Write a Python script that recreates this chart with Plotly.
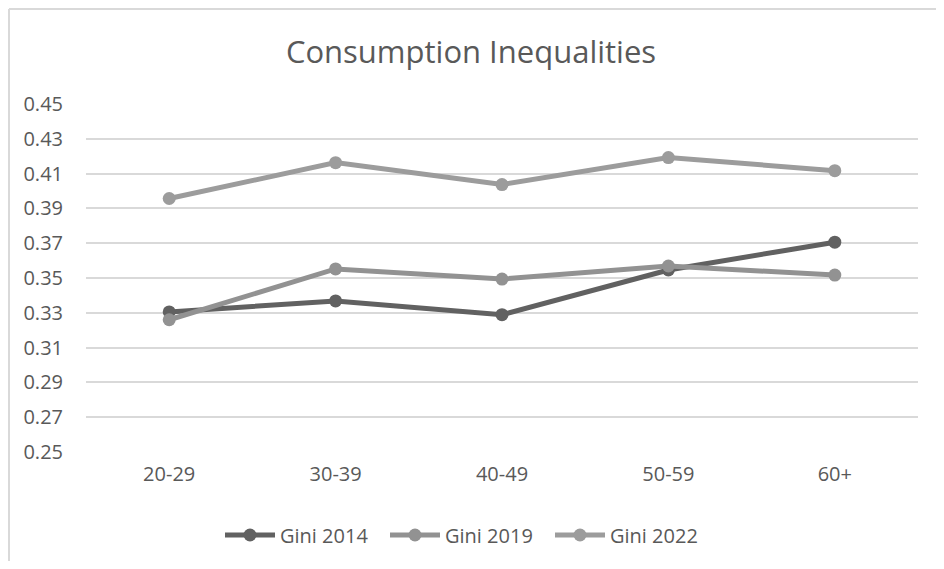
import plotly.graph_objects as go

age_groups = ["20-29", "30-39", "40-49", "50-59", "60+"]
gini_2014 = [0.3305, 0.3368, 0.3289, 0.3546, 0.3706]
gini_2019 = [0.3260, 0.3552, 0.3494, 0.3569, 0.3517]
gini_2022 = [0.3957, 0.4163, 0.4037, 0.4192, 0.4117]
y_ticks = [0.25, 0.27, 0.29, 0.31, 0.33, 0.35, 0.37, 0.39, 0.41, 0.43, 0.45]

series = [
    ("Gini 2014", gini_2014, "#616161"),
    ("Gini 2019", gini_2019, "#929292"),
    ("Gini 2022", gini_2022, "#9c9c9c"),
]

fig = go.Figure()
for name, vals, color in series:
    fig.add_trace(go.Scatter(
        x=age_groups,
        y=vals,
        name=name,
        mode="lines+markers",
        line=dict(color=color, width=5),
        marker=dict(color=color, size=13),
    ))

# the page body has an 8px margin, so the figure is drawn 8px in from the corner
W, H = 936, 553
ml, mr, mt, mb = 78, 26, 96, 109
pw, ph = W - ml - mr, H - mt - mb


def px_x(x):
    return (x - ml) / pw


def px_y(y):
    return 1 - (y - mt) / ph


fig.update_layout(
    width=W,
    height=H,
    margin=dict(l=ml, r=mr, t=mt, b=mb),
    plot_bgcolor="white",
    paper_bgcolor="white",
    font=dict(family="Open Sans", color="#595959", size=20),
    title=dict(
        text="Consumption Inequalities",
        font=dict(size=31, color="#595959"),
        x=(471 - 8) / W,
        xanchor="center",
        y=1 - 44 / H,
        yanchor="middle",
    ),
    xaxis=dict(
        type="category",
        range=[-0.5, 4.5],
        showgrid=False,
        showline=False,
        zeroline=False,
        ticks="",
        ticklabelstandoff=8,
        tickfont=dict(size=20, color="#595959"),
    ),
    yaxis=dict(
        range=[0.25, 0.45],
        tickvals=y_ticks,
        tickformat=".2f",
        showgrid=True,
        gridcolor="#d9d9d9",
        gridwidth=2,
        zeroline=False,
        showline=False,
        ticks="",
        ticklabelstandoff=22,
        tickfont=dict(size=20, color="#595959"),
    ),
    legend=dict(
        orientation="h",
        xref="container",
        yref="container",
        x=(220 - 8) / W,
        xanchor="left",
        y=1 - (535 - 8) / H,
        yanchor="middle",
        font=dict(size=20, color="#595959"),
        itemwidth=50,
        entrywidth=100,
    ),
    showlegend=True,
    shapes=[
        dict(type="line", xref="paper", yref="paper",
             x0=px_x(1), x1=px_x(W), y0=px_y(1), y1=px_y(1),
             line=dict(color="#d9d9d9", width=2)),
        dict(type="line", xref="paper", yref="paper",
             x0=px_x(1), x1=px_x(1), y0=px_y(1), y1=px_y(H),
             line=dict(color="#d9d9d9", width=2)),
    ],
)

fig.write_html("out.html")
